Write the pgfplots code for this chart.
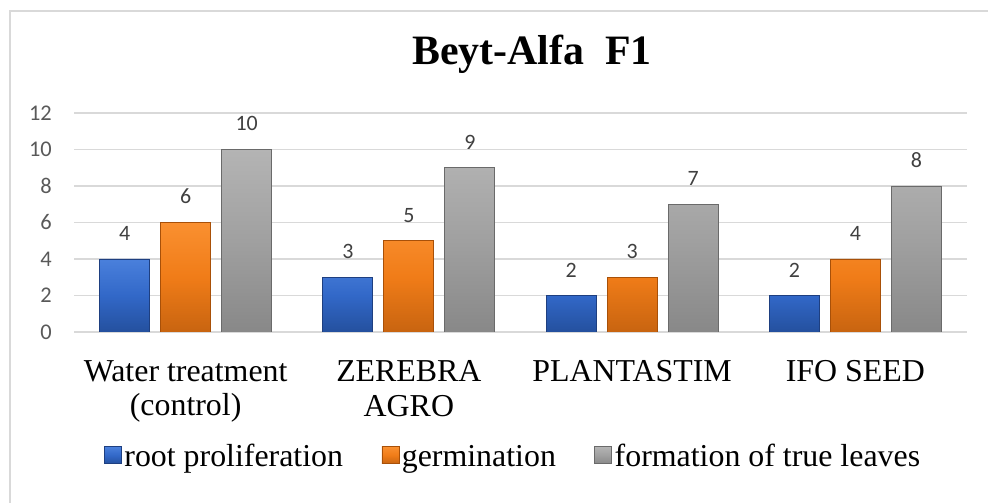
\documentclass[border=0pt]{standalone}
\usepackage{pgfplots}
\pgfplotsset{compat=1.18}
\usepackage{fontspec}
\setmainfont{Liberation Serif}
\newfontfamily\carlito{Carlito}
\definecolor{gridc}{HTML}{D9D9D9}
\definecolor{tickc}{HTML}{595959}
\definecolor{labc}{HTML}{404040}
\definecolor{bluem}{HTML}{3268C8}
\definecolor{bluel}{HTML}{4A80DC}
\definecolor{blued}{HTML}{24509E}
\definecolor{bluee}{HTML}{1E3F80}
\definecolor{orm}{HTML}{F07C18}
\definecolor{orl}{HTML}{FA9030}
\definecolor{ord}{HTML}{C86410}
\definecolor{ore}{HTML}{A85008}
\definecolor{grm}{HTML}{A0A0A0}
\definecolor{grl}{HTML}{B4B4B4}
\definecolor{grd}{HTML}{888888}
\definecolor{gre}{HTML}{6A6A6A}
\begin{document}
\begin{tikzpicture}
\useasboundingbox (0,0) rectangle (988bp,503bp);
\begin{axis}[
  at={(74bp,171bp)}, anchor=south west,
  scale only axis, width=893bp, height=219bp,
  ybar=11bp, bar width=50bp,
  xmin=-0.5, xmax=3.5, ymin=0, ymax=12,
  xtick={0,1,2,3},
  xticklabels={{Water treatment\\(control)},{ZEREBRA\\AGRO},{PLANTASTIM},{IFO SEED}},
  ytick={0,2,4,6,8,10,12},
  axis line style={draw=none},
  major tick length=0pt,
  ymajorgrids, grid style={gridc, line width=1.5bp},
  x tick label style={font=\fontsize{32}{35}\selectfont, align=center, inner sep=0pt, anchor=north, yshift=-28bp},
  y tick label style={font=\carlito\fontsize{22.5}{26}\selectfont, text=tickc, inner sep=0pt, anchor=east, xshift=-22bp},
  /pgf/number format/assume math mode=true,
  nodes near coords,
  every node near coord/.append style={font=\carlito\fontsize{22}{26}\selectfont, text=labc, inner sep=0pt, anchor=south, yshift=18bp},
  legend image code/.code={\draw[#1] (0bp,-8.5bp) rectangle (17bp,8.5bp);},
  legend columns=3,
  legend style={at={(0.492,-0.563)}, anchor=center, draw=none, fill=none,
    font=\fontsize{32}{35}\selectfont, inner sep=0pt,
    nodes={inner sep=2.5bp},
    /tikz/every even column/.append style={column sep=36bp}},
]
\addplot[top color=bluel, bottom color=blued, middle color=bluem, draw=bluee, line width=0.8bp]
  coordinates {(0,4) (1,3) (2,2) (3,2)};
\addplot[top color=orl, bottom color=ord, middle color=orm, draw=ore, line width=0.8bp]
  coordinates {(0,6) (1,5) (2,3) (3,4)};
\addplot[top color=grl, bottom color=grd, middle color=grm, draw=gre, line width=0.8bp]
  coordinates {(0,10) (1,9) (2,7) (3,8)};
\legend{\strut root proliferation, \strut germination, \strut formation of true leaves}
\end{axis}
\node[font=\bfseries\fontsize{42}{46}\selectfont, anchor=base] at (532bp,438bp) {Beyt-Alfa\ \ F1};
\draw[gridc, line width=1.5bp] (10bp,0bp) -- (10bp,492bp) -- (988bp,492bp);
\end{tikzpicture}
\end{document}
